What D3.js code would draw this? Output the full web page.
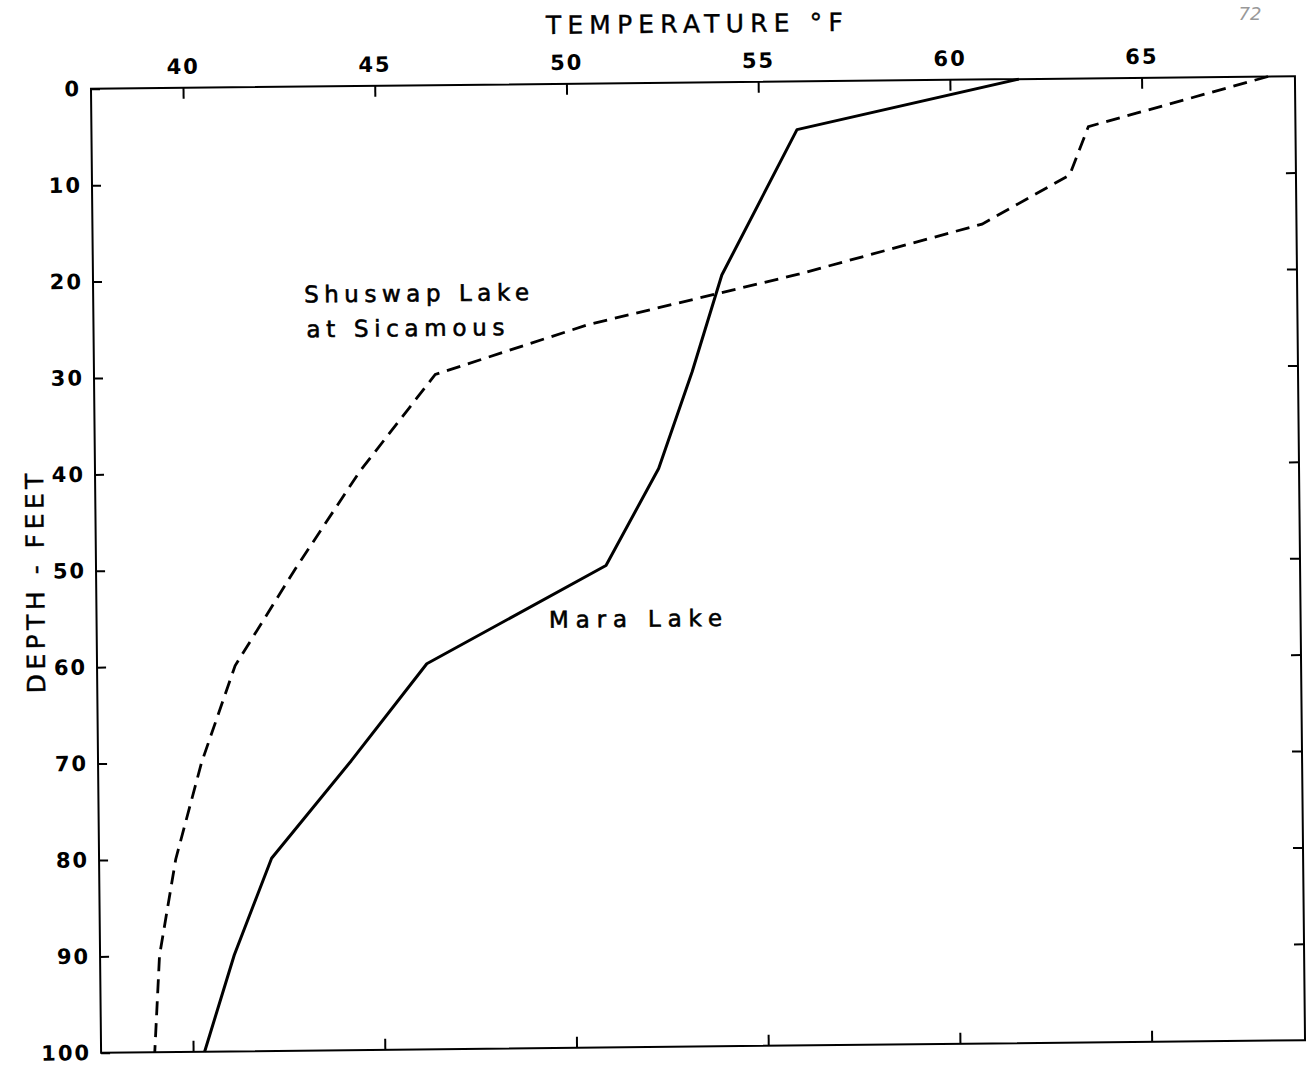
<!DOCTYPE html>
<html>
<head>
<meta charset="utf-8">
<script src="https://cdn.jsdelivr.net/npm/d3@7"></script>
<style>
  body { margin: 0; background: #fff; }
</style>
</head>
<body>
<div id="chart"></div>
<script>
// datos (profundidad en pies, temperatura en °F)
const maraDepth = [0, 5, 20, 30, 40, 50, 60, 70, 80, 90, 100];
const maraTemp  = [61.8, 56.0, 54.0, 53.2, 52.3, 50.9, 46.2, 44.2, 42.1, 41.1, 40.3];

const shuswapDepth = [0, 5, 10, 15, 20, 25, 30, 40, 50, 60, 70, 80, 90, 100];
const shuswapTemp  = [68.3, 63.6, 63.1, 60.8, 56.0, 50.5, 46.5, 44.5, 42.8, 41.2, 40.3, 39.6, 39.15, 39.0];

const tempTicks  = [40, 45, 50, 55, 60, 65];
const depthTicks = [0, 10, 20, 30, 40, 50, 60, 70, 80, 90, 100];

// etiquetas: [texto, temperatura, profundidad (linea base), ancho]
const labels = [
  ["Shuswap Lake", 43.1, 22.4, 225],
  ["at Sicamous", 43.15, 26.0, 198],
  ["Mara Lake", 49.4, 56.4, 173]
];

const W = 1314, H = 1069;
const margin = { top: 82.5, left: 96, right: 14, bottom: 22.5 };
const width = W - margin.left - margin.right;    // 1204
const height = H - margin.top - margin.bottom;   // 964

const svg = d3.select("#chart").append("svg")
    .attr("width", W)
    .attr("height", H)
    .style("background", "#fff");

// numero de pagina
svg.append("text")
    .attr("x", 1250)
    .attr("y", 20)
    .attr("text-anchor", "middle")
    .attr("font-family", "DejaVu Sans")
    .attr("font-style", "italic")
    .attr("font-size", 18)
    .attr("fill", "#999")
    .text("72");

// la hoja escaneada esta ligeramente girada
const root = svg.append("g")
    .attr("transform", "rotate(-0.6, 698, 564)");

const g = root.append("g")
    .attr("transform", `translate(${margin.left},${margin.top})`);

const x = d3.scaleLinear().domain([37.6, 69.0]).range([0, width]);
const y = d3.scaleLinear().domain([0, 100]).range([0, height]);

function styleAxis(sel) {
    sel.select(".domain").remove();
    sel.selectAll(".tick line").attr("stroke", "#000").attr("stroke-width", 2);
    sel.selectAll(".tick text")
        .attr("fill", "#000")
        .attr("font-family", "DejaVu Sans")
        .attr("font-weight", "bold")
        .attr("font-size", 21)
        .style("letter-spacing", "2px");
}

// eje superior
g.append("g")
    .call(d3.axisTop(x).tickValues(tempTicks).tickSize(-11).tickPadding(14).tickFormat(d3.format("d")))
    .call(styleAxis);

// eje inferior (solo marcas)
g.append("g")
    .attr("transform", `translate(0,${height})`)
    .call(d3.axisBottom(x).tickValues(tempTicks).tickSize(-11).tickFormat(""))
    .call(styleAxis);

// eje izquierdo
g.append("g")
    .call(d3.axisLeft(y).tickValues(depthTicks).tickSize(-9).tickPadding(10).tickFormat(d3.format("d")))
    .call(styleAxis);

// eje derecho (solo marcas)
g.append("g")
    .attr("transform", `translate(${width},0)`)
    .call(d3.axisRight(y).tickValues(depthTicks.slice(1, -1)).tickSize(-10).tickFormat(""))
    .call(styleAxis);

// marco
g.append("rect")
    .attr("width", width)
    .attr("height", height)
    .attr("fill", "none")
    .attr("stroke", "#000")
    .attr("stroke-width", 2);

const line = d3.line()
    .x(d => x(d.t))
    .y(d => y(d.d));

const mara = maraDepth.map((d, i) => ({ d: d, t: maraTemp[i] }));
const shuswap = shuswapDepth.map((d, i) => ({ d: d, t: shuswapTemp[i] }));

g.append("path")
    .datum(shuswap)
    .attr("fill", "none")
    .attr("stroke", "#000")
    .attr("stroke-width", 2.8)
    .attr("stroke-dasharray", "14,8")
    .attr("d", line);

g.append("path")
    .datum(mara)
    .attr("fill", "none")
    .attr("stroke", "#000")
    .attr("stroke-width", 3)
    .attr("stroke-linejoin", "round")
    .attr("d", line);

// etiquetas de las curvas
g.selectAll(".lbl")
    .data(labels)
    .enter()
    .append("text")
    .attr("class", "lbl")
    .attr("x", d => x(d[1]))
    .attr("y", d => y(d[2]))
    .attr("font-family", "DejaVu Sans")
    .attr("font-size", 23)
    .attr("fill", "#000")
    .attr("stroke", "#000")
    .attr("stroke-width", 0.6)
    .attr("textLength", d => d[3])
    .attr("lengthAdjust", "spacing")
    .text(d => d[0]);

// titulo eje X
g.append("text")
    .attr("x", width / 2 + 2)
    .attr("y", -50)
    .attr("text-anchor", "middle")
    .attr("font-family", "DejaVu Sans")
    .attr("font-size", 25)
    .attr("fill", "#000")
    .attr("stroke", "#000")
    .attr("stroke-width", 0.4)
    .attr("textLength", 297)
    .attr("lengthAdjust", "spacing")
    .text("TEMPERATURE  °F");

// titulo eje Y
g.append("text")
    .attr("transform", `translate(-52,${height / 2 + 12}) rotate(-90)`)
    .attr("text-anchor", "middle")
    .attr("font-family", "DejaVu Sans")
    .attr("font-size", 25)
    .attr("fill", "#000")
    .attr("stroke", "#000")
    .attr("stroke-width", 0.4)
    .attr("textLength", 220)
    .attr("lengthAdjust", "spacing")
    .text("DEPTH - FEET");
</script>
</body>
</html>
